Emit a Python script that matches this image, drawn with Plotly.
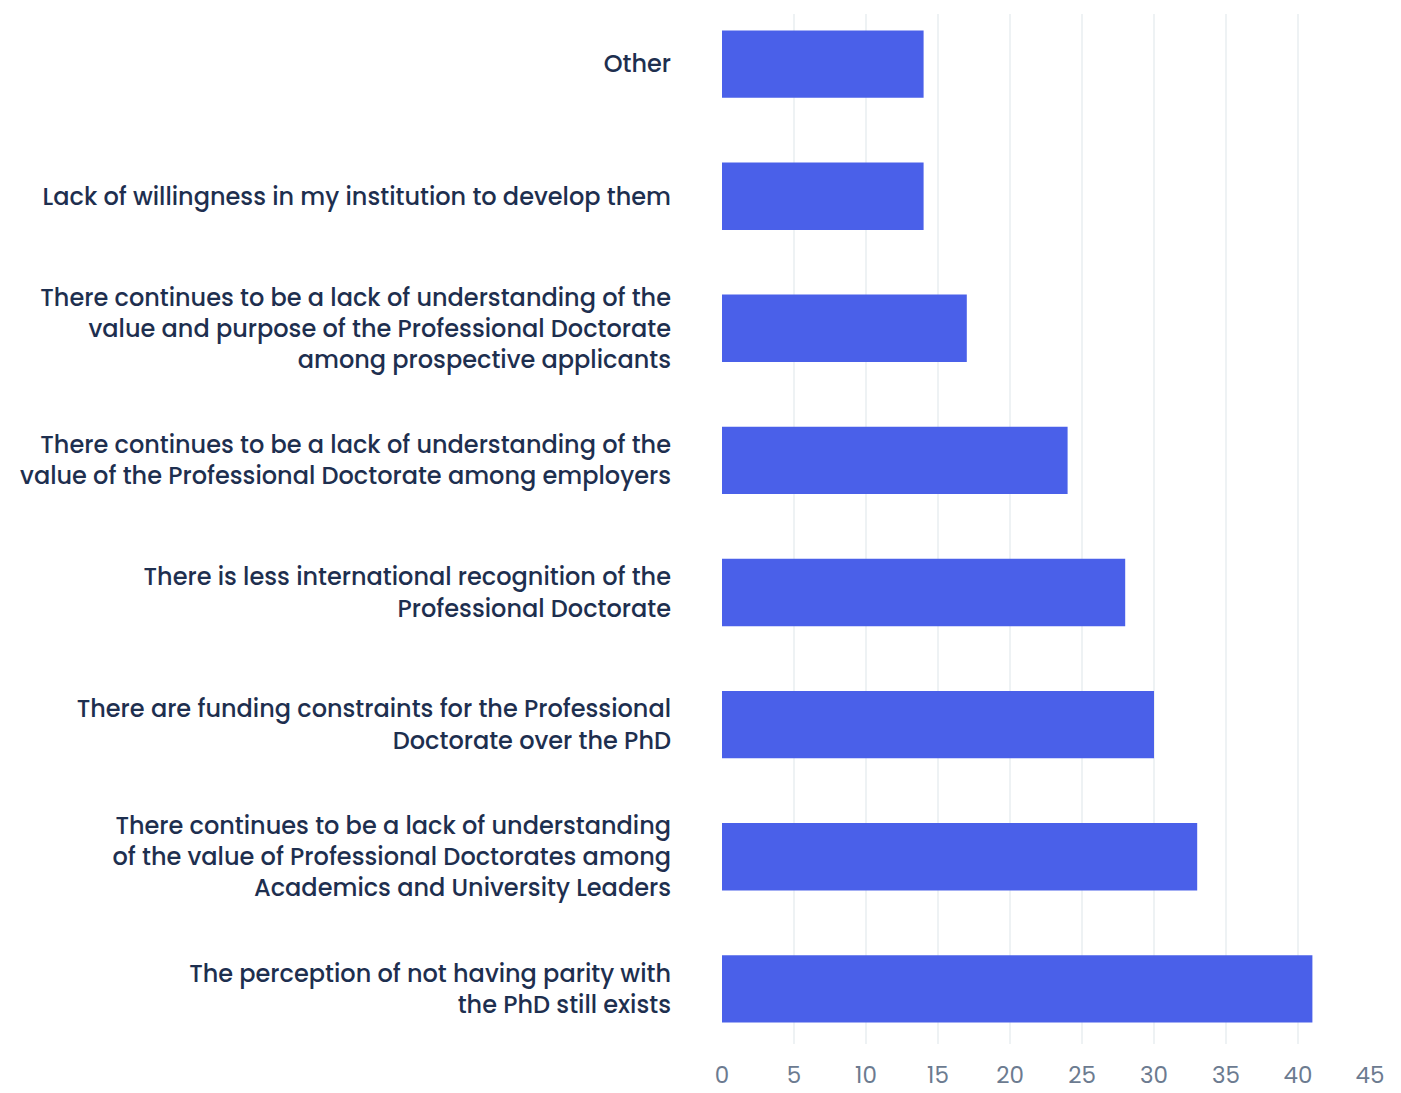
import plotly.graph_objects as go

# Survey responses: barriers to Professional Doctorate provision
categories = [
    "Other",
    "Lack of willingness in my institution to develop them",
    "There continues to be a lack of understanding of the<br>value and purpose of the Professional Doctorate<br>among prospective applicants",
    "There continues to be a lack of understanding of the<br>value of the Professional Doctorate among employers",
    "There is less international recognition of the<br>Professional Doctorate",
    "There are funding constraints for the Professional<br>Doctorate over the PhD",
    "There continues to be a lack of understanding<br>of the value of Professional Doctorates among<br>Academics and University Leaders",
    "The perception of not having parity with<br>the PhD still exists",
]
counts = [14, 14, 17, 24, 28, 30, 33, 41]
x_ticks = [0, 5, 10, 15, 20, 25, 30, 35, 40, 45]

fig = go.Figure(
    go.Bar(
        x=counts,
        y=categories,
        orientation="h",
        marker=dict(color="#4a60e9", line=dict(width=0)),
        width=0.51,
        hoverinfo="x+y",
    )
)

fig.update_layout(
    width=1401,
    height=1093,
    margin=dict(l=722, r=31, t=14, b=49),
    paper_bgcolor="white",
    plot_bgcolor="white",
    font=dict(family="Poppins, Inter, sans-serif", size=22, color="#1e2f4f"),
    showlegend=False,
    xaxis=dict(
        range=[0, 45],
        tickvals=x_ticks,
        showgrid=True,
        gridcolor="#eef2f4",
        gridwidth=2,
        zeroline=False,
        showline=False,
        automargin=False,
        tickfont=dict(size=23, color="#6c7b90"),
        ticklabelstandoff=15,
    ),
    yaxis=dict(
        type="category",
        categoryorder="array",
        categoryarray=categories,
        range=[7.417, -0.379],
        showgrid=False,
        zeroline=False,
        showline=False,
        automargin=False,
        tickfont=dict(size=24, color="#1e2f4f", weight=500),
        ticklabelstandoff=50,
    ),
)

fig.write_html("out.html")
